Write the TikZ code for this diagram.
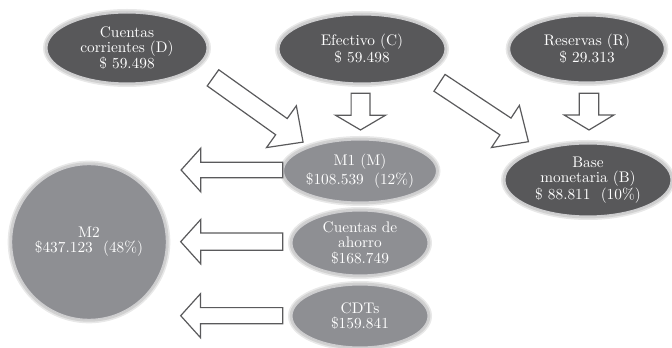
\documentclass[tikz,border=0pt]{standalone}
\usepackage{fontspec}
\usetikzlibrary{shapes.geometric,shapes.arrows}

% serif face with glyphs coloured white at font level
\newfontfamily\whiteserif{lmroman10-regular.otf}[Color=FFFFFF]

\definecolor{darkfill}{RGB}{88,88,90}
\definecolor{lightfill}{RGB}{142,143,147}
\definecolor{arrowline}{RGB}{90,90,92}
\definecolor{rimgray}{RGB}{205,205,207}

\newcommand\osn[1]{#1}

\tikzset{
  % soft halo drawn as wide strokes under the bubble
  halo/.style={
    preaction={draw=black!9, line width=6pt},
    preaction={draw=black!18, line width=3.6pt}},
  bubble/.style={ellipse, inner sep=0pt, halo, draw=rimgray, line width=0.8pt,
    align=center, text=white,
    font=\whiteserif\fontsize{11.5}{11.4}\selectfont},
  darkbubble/.style={bubble, fill=darkfill},
  lightbubble/.style={bubble, fill=lightfill},
  fatarrow/.style={single arrow, draw=arrowline, fill=white,
    line width=0.9pt, anchor=tail, inner xsep=0pt}
}

\begin{document}
\begin{tikzpicture}[x=0.75pt,y=-0.75pt]
\useasboundingbox (0,0) rectangle (672,348);

% top row
\node[darkbubble, minimum width=120pt, minimum height=52.5pt] (cc) at (127,48)
  {Cuentas\\corrientes (D)\\\$ \osn{59.498}};
\node[darkbubble, minimum width=124.5pt, minimum height=51pt] (ef) at (362,49)
  {Efectivo (C)\\\$ \osn{59.498}};
\node[darkbubble, minimum width=116pt, minimum height=49.5pt] (re) at (587,49)
  {Reservas (R)\\\$ \osn{29.313}};

% middle column
\node[lightbubble, minimum width=102pt, minimum height=46.5pt] (m1) at (360,171)
  {M\osn{1} (M)\\[1.5pt]\$\osn{108.539}\ \ (\osn{12}\%)};
\node[lightbubble, minimum width=102pt, minimum height=48pt] (ah) at (360,243)
  {Cuentas de\\ahorro\\\$\osn{168.749}};
\node[lightbubble, minimum width=102pt, minimum height=46.5pt] (cd) at (360,316)
  {CDTs\\\$\osn{159.841}};

% right
\node[darkbubble, minimum width=124.5pt, minimum height=54pt] (bm) at (588,180)
  {Base\\monetaria (B)\\\$ \osn{88.811}\ \ (\osn{10}\%)};

% M2
\node[lightbubble, circle, minimum size=116pt] (m2) at (89,242)
  {M\osn{2}\\\$\osn{437.123}\ \ (\osn{48}\%)};

% block arrows
\node[fatarrow, rotate=-35.5, minimum height=83pt, inner ysep=7pt,
  single arrow head extend=11.8pt, single arrow tip angle=88] (a1) at (212.5,77.5) {};
\node[fatarrow, rotate=-90, minimum height=27.5pt, inner ysep=6.6pt,
  single arrow head extend=11.8pt, single arrow tip angle=119] (a2) at (360.5,92.7) {};
\node[fatarrow, rotate=-33.5, minimum height=80pt, inner ysep=7.1pt,
  single arrow head extend=11.4pt, single arrow tip angle=85] (a3) at (439,82.5) {};
\node[fatarrow, rotate=-90, minimum height=27.5pt, inner ysep=6.8pt,
  single arrow head extend=11.3pt, single arrow tip angle=118] (a4) at (589,92.7) {};
\node[fatarrow, rotate=180, minimum height=76.2pt, inner ysep=5.3pt,
  single arrow head extend=10.6pt, single arrow tip angle=96] (a5) at (283.3,170) {};
\node[fatarrow, rotate=180, minimum height=76.5pt, inner ysep=6pt,
  single arrow head extend=10.2pt, single arrow tip angle=96] (a6) at (283.3,241.7) {};
\node[fatarrow, rotate=180, minimum height=76.5pt, inner ysep=5.6pt,
  single arrow head extend=10.5pt, single arrow tip angle=96] (a7) at (283.3,315.7) {};
\end{tikzpicture}
\end{document}
